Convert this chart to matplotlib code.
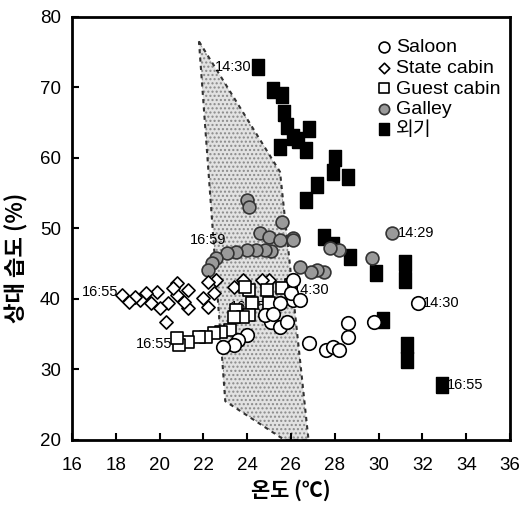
import numpy as np
import matplotlib
matplotlib.use("Agg")
import matplotlib.pyplot as plt
from matplotlib.patches import Polygon

plt.rcParams['font.family'] = ['Liberation Sans', 'Noto Sans CJK KR', 'DejaVu Sans']

# Saloon (open circles)
saloon_x = [31.8, 26.1, 26.0, 26.4, 25.5, 25.1, 25.5, 25.8, 24.8, 25.2, 24.0, 23.6, 23.4, 22.9,
            26.8, 27.6, 27.9, 28.2, 28.6, 28.6, 29.8, 26.1]
saloon_y = [39.4, 39.9, 40.8, 39.9, 39.4, 36.7, 36.0, 36.7, 37.7, 37.9, 34.9, 34.2, 33.5, 33.2,
            33.8, 32.8, 33.2, 32.8, 34.6, 36.6, 36.7, 42.7]

# State cabin (diamonds)
state_x = [25.0, 24.7, 23.8, 23.4, 22.6, 22.5, 22.2, 22.2, 22.0, 21.3, 21.3, 21.1, 20.8, 20.8,
           20.6, 20.4, 20.3, 20.0, 19.9, 19.6, 19.4, 19.1, 18.9, 18.6, 18.3]
state_y = [42.7, 42.7, 42.7, 41.7, 42.7, 40.9, 42.4, 38.9, 40.1, 41.3, 38.7, 39.6, 40.6, 42.3,
           41.6, 39.4, 36.7, 38.7, 41.0, 39.4, 40.9, 39.9, 40.3, 39.6, 40.6]

# Guest cabin (open squares)
guest_x = [26.0, 25.6, 25.0, 24.9, 24.1, 23.9, 24.2, 23.5, 24.1, 23.8, 23.4, 23.2, 22.8, 22.5,
           22.1, 21.8, 21.3, 20.9, 20.8]
guest_y = [42.0, 41.6, 39.4, 41.3, 41.3, 41.7, 39.4, 38.4, 37.7, 37.4, 37.4, 35.6, 35.3, 35.2,
           34.6, 34.6, 33.9, 33.5, 34.5]

# Galley (grey circles)
galley_x = [30.6, 29.7, 28.2, 27.8, 27.5, 27.2, 26.9, 26.4, 26.1, 25.6, 24.0, 24.1, 24.6, 25.0,
            25.5, 26.1, 25.1, 24.8, 24.4, 24.0, 23.5, 23.1, 22.6, 22.4, 22.2]
galley_y = [49.4, 45.8, 47.0, 47.2, 43.8, 44.1, 43.8, 44.5, 48.6, 50.9, 54.0, 53.0, 49.4, 48.8,
            48.4, 48.4, 46.8, 47.0, 47.0, 47.0, 46.7, 46.5, 45.8, 45.1, 44.1]

# Outdoor (black squares)
out_x = [24.5, 25.2, 25.6, 25.7, 25.8, 26.1, 26.3, 26.8, 25.5, 26.7, 28.0, 27.9, 28.6, 27.2,
         26.7, 27.5, 27.9, 28.7, 29.9, 31.2, 31.2, 30.2, 31.3, 31.3, 32.9]
out_y = [72.9, 69.6, 68.9, 66.4, 64.5, 63.0, 62.5, 64.1, 61.6, 61.1, 60.0, 58.0, 57.3, 56.2,
         54.0, 48.8, 47.7, 46.0, 43.7, 45.1, 42.7, 37.0, 33.5, 31.3, 27.8]

# comfort zone outline
zone = [(21.8, 76.5), (25.5, 58.0), (26.8, 20.0), (25.7, 20.0), (23.0, 25.5)]

# time labels: (text, x, y, ha)
labels = [("14:30", 24.2, 72.9, 'right'), ("14:29", 30.9, 49.4, 'left'),
          ("14:30", 32.0, 39.4, 'left'), ("16:55", 33.1, 27.8, 'left'),
          ("16:55", 18.1, 41.0, 'right'), ("16:55", 20.6, 33.6, 'right'),
          ("16:59", 21.4, 48.3, 'left'), ("14:30", 26.1, 41.2, 'left'),
          ("16:55", 23.2, 38.9, 'left')]

fig = plt.figure(figsize=(5.21, 5.08), dpi=100)
ax = fig.add_axes([0.138, 0.134, 0.841, 0.833])

poly = Polygon(zone, closed=True, facecolor='#e2e2e2', edgecolor='#8a8a8a',
               hatch='....', lw=0, zorder=1)
ax.add_patch(poly)
zx = [p[0] for p in zone] + [zone[0][0]]
zy = [p[1] for p in zone] + [zone[0][1]]
ax.plot(zx, zy, color='#333333', lw=1.5, ls=(0, (2, 2)), zorder=2)

for t, x, y, ha in labels:
    ax.text(x, y, t, fontsize=10.5, ha=ha, va='center', zorder=3)

tall_sq = [(-0.82, -1), (0.82, -1), (0.82, 1), (-0.82, 1), (-0.82, -1)]
ax.scatter(out_x, out_y, marker=tall_sq, s=125, c='black', edgecolors='black', zorder=4, label='외기')
ax.scatter(galley_x, galley_y, marker='o', s=85, c='#9a9a9a', edgecolors='#333333',
           linewidths=1.2, zorder=5, label='Galley')
ax.scatter(state_x, state_y, marker='D', s=45, c='white', edgecolors='black',
           linewidths=1.2, zorder=6, label='State cabin')
ax.scatter(guest_x, guest_y, marker='s', s=70, c='white', edgecolors='black',
           linewidths=1.2, zorder=7, label='Guest cabin')
ax.scatter(saloon_x, saloon_y, marker='o', s=95, c='white', edgecolors='black',
           linewidths=1.2, zorder=8, label='Saloon')

handles, labs = ax.get_legend_handles_labels()
order = [4, 2, 3, 1, 0]
ax.legend([handles[i] for i in order], [labs[i] for i in order], loc='upper right',
          bbox_to_anchor=(1.01, 0.98), frameon=False, fontsize=14, handletextpad=0.15,
          labelspacing=0.15, borderaxespad=0.3, markerscale=0.8, handlelength=1.0)

ax.set_xlim(16, 36)
ax.set_ylim(20, 80)
ax.set_xticks(np.arange(16, 37, 2))
ax.set_yticks(np.arange(20, 81, 10))
ax.tick_params(direction='in', length=5, width=1.5, labelsize=13.5)
ax.tick_params(axis='x', pad=12)
ax.tick_params(axis='y', pad=8)
for s in ax.spines.values():
    s.set_linewidth(2)
ax.set_xlabel('온도 (℃)', fontsize=15, fontweight='bold',
              family=['Noto Sans CJK KR', 'DejaVu Sans'], labelpad=4)
ax.set_ylabel('상대 습도 (%)', fontsize=16, fontweight='bold',
              family=['Noto Sans CJK KR', 'DejaVu Sans'])
ax.yaxis.set_label_coords(-0.1, 0.43)

fig.savefig('out.png', dpi=100)
